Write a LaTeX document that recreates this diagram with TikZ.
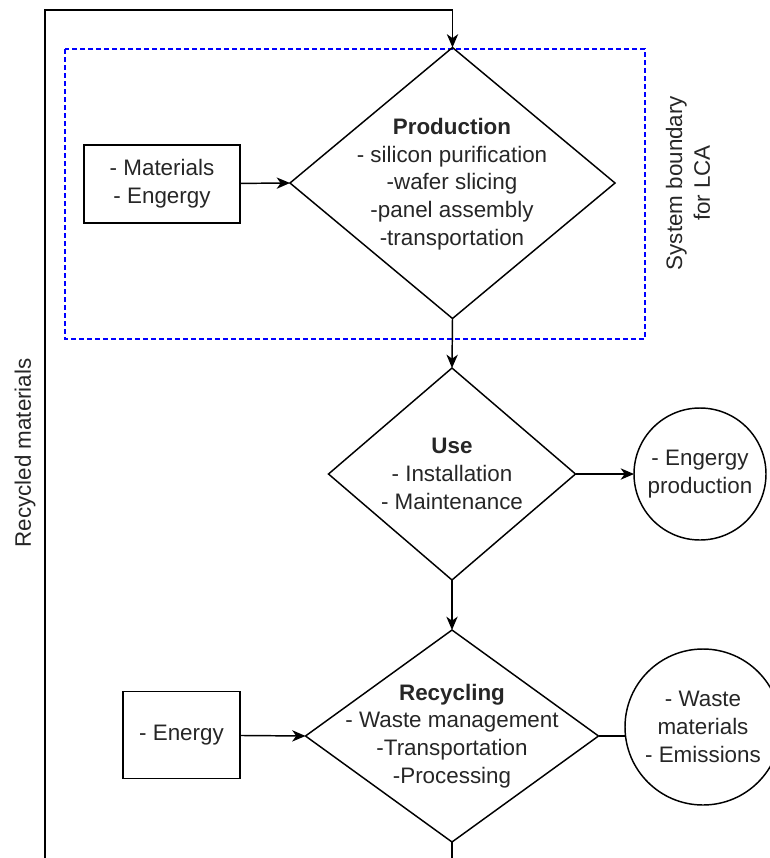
\documentclass[tikz,border=0pt]{standalone}
\usepackage{fontspec}
\setmainfont{Liberation Sans}
\usetikzlibrary{arrows.meta,shapes.geometric}
\definecolor{lcablue}{RGB}{0,0,255}

\begin{document}
\begin{tikzpicture}[x=0.75pt, y=-0.75pt,
  every node/.style={font=\fontsize{16.8}{20.8}\selectfont, text=black!85},
  flow/.style={line width=1.1pt, -{Stealth[length=10pt, width=8.5pt, inset=3pt]}},
  stage/.style={draw, line width=1.1pt, diamond, inner sep=0pt, outer sep=0pt},
  input/.style={draw, line width=1.1pt, rectangle, inner sep=0pt, outer sep=0pt},
  output/.style={draw, line width=1.1pt, circle, inner sep=0pt, outer sep=0pt}]
\useasboundingbox (0,0) rectangle (770,858);
% system boundary
\draw[lcablue, line width=0.9pt, dash pattern=on 3.5pt off 2.5pt] (65,49) rectangle (645,339);
\node[rotate=90, align=center] (boundlbl) at (688,183) {System boundary\\for LCA};
% life cycle stages
\node[stage, minimum width=243.75pt, minimum height=203.25pt] (prod) at (452.5,183) {};
\node[align=center] (prodtxt) at (452,184)
  {\textbf{Production}\\- silicon purification\\-wafer slicing\\-panel assembly\\-transportation};
\node[stage, minimum width=185.25pt, minimum height=159pt] (use) at (452,474) {};
\node[align=center] (usetxt) at (452,474) {\textbf{Use}\\- Installation\\- Maintenance};
\node[stage, minimum width=219.75pt, minimum height=159pt] (recyc) at (452,736) {};
\node[align=center] (recyctxt) at (452,736)
  {\textbf{Recycling}\\- Waste management\\-Transportation\\-Processing};
% inputs and outputs
\node[input, minimum width=117pt, minimum height=58.5pt, align=center] (mat) at (162,184)
  {- Materials\\- Engergy};
\node[input, minimum width=87.75pt, minimum height=65.25pt] (energy) at (181.5,735) {- Energy};
\node[output, minimum size=99pt, align=center] (eprod) at (700,474) {- Engergy\\production};
\node[output, minimum size=117pt, align=center] (waste) at (703,727)
  {- Waste\\materials\\- Emissions};
% flows
\draw[flow] (mat) -- (prod.west);
\draw[flow] (prod.south) -- (use.north);
\draw[flow] (use.east) -- (eprod.west);
\draw[flow] (use.south) -- (recyc.north);
\draw[flow] (energy) -- (recyc.west);
\draw[line width=1.1pt] (recyc.east) -- (waste.west |- recyc.east);
% recycled materials loop
\coordinate (recout) at (452,858);
\coordinate (retin) at (45,858);
\coordinate (loopturn) at (45,10);
\draw[line width=1.1pt] (recyc.south) -- (recout);
\draw[flow] (retin) -- (loopturn) -| (prod.north);
\node[rotate=90] (looplbl) at (25,453) {Recycled materials};
\end{tikzpicture}
\end{document}
